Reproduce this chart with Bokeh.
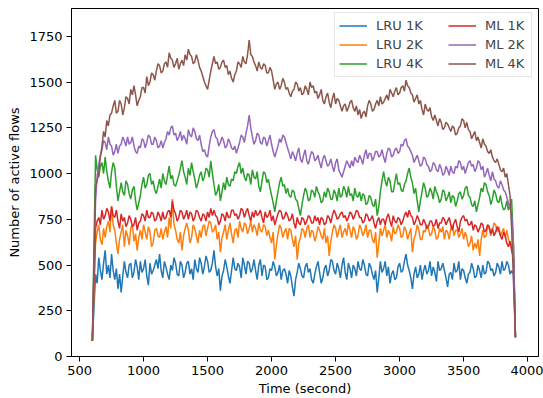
from bokeh.plotting import figure
from bokeh.models import Range1d, Legend, LegendItem, FixedTicker
from bokeh.embed import file_html
from bokeh.resources import INLINE

# sampling times (seconds)
time_s = [600] + [625 + 12.5 * k for k in range(261)] + [3890, 3905]

lru_1k = [85,
    450, 400, 540, 470, 420, 510, 580, 450, 500, 430, 560, 470, 420, 480, 370, 450, 350, 440, 520, 460,
    430, 500, 510, 430, 460, 530, 490, 420, 520, 460, 480, 530, 440, 390, 510, 450, 470, 500, 530, 480,
    560, 470, 430, 520, 490, 450, 420, 500, 470, 540, 510, 450, 440, 520, 500, 430, 460, 510, 520, 450,
    480, 420, 530, 480, 460, 540, 510, 450, 490, 550, 520, 460, 470, 510, 580, 490, 440, 480, 360, 440,
    470, 530, 490, 440, 400, 470, 540, 480, 470, 510, 490, 430, 540, 500, 450, 520, 510, 460, 480, 530,
    470, 420, 500, 530, 440, 500, 490, 420, 430, 480, 470, 520, 490, 440, 460, 500, 420, 470, 480, 450,
    400, 470, 440, 380, 330, 420, 460, 510, 480, 440, 430, 490, 510, 460, 480, 420, 400, 450, 490, 520,
    460, 400, 430, 480, 500, 440, 470, 530, 520, 470, 450, 510, 480, 430, 500, 540, 460, 420, 510, 480,
    430, 500, 480, 440, 520, 480, 470, 530, 500, 450, 440, 510, 490, 450, 420, 470, 350, 430, 520, 460,
    480, 520, 440, 490, 400, 450, 470, 420, 430, 490, 510, 460, 470, 520, 560, 500, 470, 430, 370, 450,
    490, 430, 450, 500, 420, 470, 500, 450, 470, 520, 440, 490, 460, 410, 520, 470, 480, 510, 470, 430,
    380, 450, 460, 420, 510, 460, 470, 520, 420, 480, 470, 430, 400, 450, 460, 510, 480, 430, 440, 500,
    470, 430, 500, 450, 460, 520, 510, 470, 480, 440, 460, 510, 490, 450, 520, 470, 480, 520, 500, 450,
    470, 450, 105]

lru_2k = [85,
    620, 680, 720, 640, 610, 700, 650, 710, 740, 680, 820, 720, 690, 620, 560, 640, 680, 720, 600, 690,
    660, 610, 700, 720, 630, 670, 580, 650, 690, 640, 720, 680, 640, 710, 680, 600, 620, 690, 700, 660,
    650, 700, 640, 680, 710, 650, 760, 700, 860, 720, 690, 640, 620, 680, 580, 660, 700, 730, 690, 620,
    650, 720, 700, 660, 620, 690, 650, 710, 720, 660, 700, 740, 730, 680, 690, 720, 640, 680, 570, 650,
    680, 720, 640, 690, 730, 670, 620, 690, 700, 650, 740, 700, 680, 730, 720, 670, 700, 740, 680, 720,
    700, 660, 730, 690, 680, 720, 710, 660, 690, 650, 620, 680, 530, 610, 670, 720, 700, 650, 680, 700,
    640, 700, 690, 640, 600, 660, 530, 620, 650, 700, 690, 650, 700, 720, 650, 690, 680, 630, 660, 710,
    690, 660, 640, 700, 620, 660, 550, 630, 680, 720, 700, 650, 690, 720, 650, 680, 700, 660, 730, 690,
    650, 710, 690, 640, 660, 720, 700, 660, 680, 720, 650, 690, 690, 640, 620, 680, 540, 620, 700, 660,
    690, 720, 650, 690, 670, 630, 710, 670, 680, 720, 700, 650, 660, 710, 690, 640, 670, 700, 570, 640,
    670, 720, 690, 640, 640, 690, 680, 720, 700, 660, 670, 710, 690, 640, 650, 700, 680, 710, 640, 690,
    680, 640, 700, 720, 660, 690, 690, 650, 670, 700, 640, 680, 650, 600, 620, 660, 580, 620, 590, 640,
    550, 640, 690, 650, 660, 710, 700, 660, 690, 730, 720, 680, 710, 660, 680, 700, 650, 690, 640, 620,
    600, 520, 105]

lru_4k = [85,
    1100, 1020, 980, 1040, 1060, 1000, 1090, 1010, 960, 920, 1010, 1060, 1030, 930, 850, 900, 950, 900, 880, 960,
    940, 890, 860, 910, 930, 850, 800, 840, 880, 940, 980, 920, 940, 990, 1000, 940, 960, 910, 890, 930,
    970, 920, 1000, 960, 940, 990, 1040, 970, 990, 940, 930, 960, 990, 1030, 1070, 1010, 980, 940, 1030, 990,
    1060, 1010, 970, 920, 950, 990, 1010, 960, 980, 1030, 1020, 980, 1070, 1000, 940, 880, 900, 940, 850, 900,
    950, 910, 980, 940, 930, 970, 960, 1010, 1000, 1040, 1060, 1000, 1030, 980, 960, 1000, 990, 940, 1020, 980,
    970, 1010, 930, 900, 960, 1010, 1000, 950, 970, 920, 880, 840, 790, 850, 900, 950, 980, 930, 940, 890,
    920, 880, 870, 910, 900, 860, 850, 810, 770, 830, 880, 920, 900, 850, 860, 910, 900, 870, 930, 900,
    880, 840, 850, 900, 870, 920, 900, 860, 860, 910, 890, 850, 920, 870, 880, 930, 910, 870, 930, 880,
    890, 850, 920, 880, 870, 900, 850, 890, 880, 830, 840, 880, 870, 830, 820, 860, 770, 820, 900, 960,
    1010, 960, 930, 980, 960, 900, 900, 950, 1000, 940, 950, 910, 900, 940, 960, 1000, 1030, 980, 950, 890,
    920, 850, 790, 850, 900, 950, 920, 870, 880, 920, 900, 860, 930, 900, 880, 840, 860, 910, 900, 850,
    870, 900, 840, 880, 870, 820, 850, 890, 900, 860, 880, 920, 930, 880, 870, 830, 820, 850, 790, 830,
    870, 920, 900, 950, 940, 900, 880, 830, 860, 910, 890, 850, 840, 880, 830, 800, 810, 850, 800, 830,
    860, 600, 105]

ml_1k = [85,
    700, 740, 760, 720, 800, 750, 770, 810, 790, 740, 820, 770, 760, 800, 740, 700, 780, 740, 760, 710,
    730, 770, 750, 710, 720, 760, 690, 730, 740, 780, 770, 740, 800, 760, 760, 790, 780, 740, 750, 790,
    770, 740, 790, 750, 760, 790, 800, 760, 850, 800, 780, 740, 760, 800, 790, 750, 770, 800, 750, 790,
    780, 740, 760, 800, 790, 760, 740, 780, 770, 740, 790, 760, 810, 770, 800, 770, 760, 720, 740, 780,
    770, 740, 790, 760, 760, 800, 800, 770, 780, 750, 770, 810, 800, 760, 790, 810, 770, 740, 790, 760,
    800, 770, 780, 800, 760, 730, 790, 760, 770, 800, 740, 770, 720, 750, 780, 800, 790, 750, 760, 790,
    770, 740, 750, 780, 730, 700, 760, 730, 720, 760, 750, 720, 740, 770, 760, 730, 730, 770, 740, 760,
    720, 760, 750, 720, 730, 770, 760, 730, 770, 800, 780, 750, 760, 780, 790, 760, 770, 740, 760, 790,
    780, 750, 770, 800, 790, 760, 760, 730, 740, 780, 770, 740, 750, 770, 730, 700, 740, 760, 720, 750,
    750, 720, 760, 780, 740, 710, 770, 740, 730, 760, 750, 720, 740, 770, 790, 760, 800, 770, 760, 720,
    740, 770, 750, 720, 720, 750, 730, 700, 710, 740, 740, 710, 720, 750, 700, 730, 730, 760, 750, 720,
    740, 760, 720, 690, 730, 750, 710, 680, 740, 760, 770, 740, 750, 720, 720, 740, 690, 720, 710, 680,
    700, 730, 720, 680, 690, 720, 710, 670, 700, 660, 680, 710, 690, 660, 640, 680, 660, 620, 600, 630,
    580, 540, 105]

ml_2k = [85,
    850, 990, 1050, 1100, 1130, 1180, 1170, 1130, 1200, 1160, 1150, 1100, 1120, 1160, 1110, 1150, 1160, 1200, 1180, 1150,
    1200, 1160, 1170, 1200, 1150, 1120, 1110, 1150, 1140, 1190, 1180, 1140, 1170, 1210, 1200, 1160, 1160, 1200, 1180, 1140,
    1150, 1180, 1140, 1170, 1190, 1230, 1210, 1250, 1260, 1210, 1220, 1180, 1200, 1230, 1180, 1210, 1190, 1160, 1240, 1210,
    1200, 1250, 1230, 1190, 1180, 1210, 1160, 1120, 1130, 1100, 1090, 1150, 1200, 1230, 1240, 1200, 1190, 1150, 1170, 1200,
    1180, 1140, 1150, 1190, 1170, 1140, 1130, 1150, 1110, 1140, 1170, 1210, 1200, 1170, 1220, 1260, 1320, 1250, 1200, 1160,
    1180, 1220, 1210, 1170, 1160, 1200, 1190, 1150, 1180, 1210, 1160, 1120, 1090, 1120, 1150, 1190, 1170, 1210, 1200, 1170,
    1140, 1110, 1080, 1120, 1100, 1070, 1110, 1140, 1080, 1060, 1100, 1130, 1070, 1050, 1090, 1120, 1110, 1070, 1080, 1100,
    1060, 1030, 1080, 1100, 1070, 1040, 1050, 1080, 1040, 1010, 1060, 1080, 1020, 1000, 980, 1010, 1040, 1070, 1050, 1030,
    1070, 1040, 1090, 1070, 1060, 1100, 1080, 1050, 1100, 1130, 1080, 1110, 1110, 1070, 1090, 1120, 1120, 1090, 1100, 1130,
    1090, 1060, 1110, 1140, 1130, 1090, 1100, 1130, 1140, 1110, 1120, 1160, 1150, 1180, 1190, 1150, 1140, 1120, 1100, 1060,
    1080, 1100, 1070, 1040, 1050, 1090, 1080, 1050, 1040, 1010, 1020, 1060, 1050, 1020, 1010, 1050, 1030, 990, 1000, 1040,
    1020, 990, 1040, 1010, 1000, 1040, 1030, 1070, 1060, 1020, 1040, 1000, 1030, 1060, 1070, 1040, 1050, 1010, 1030, 1070,
    1060, 1020, 1040, 980, 1000, 1030, 990, 960, 1010, 970, 960, 930, 920, 960, 940, 910, 900, 870, 840, 810,
    780, 600, 105]

ml_4k = [85,
    930, 960, 1000, 1090, 1150, 1230, 1200, 1290, 1260, 1320, 1330, 1370, 1400, 1330, 1340, 1400, 1380, 1320, 1360, 1420,
    1410, 1380, 1460, 1430, 1480, 1430, 1370, 1400, 1420, 1470, 1470, 1440, 1530, 1480, 1500, 1550, 1540, 1510, 1560, 1600,
    1590, 1550, 1560, 1600, 1610, 1580, 1660, 1630, 1620, 1580, 1600, 1630, 1570, 1600, 1620, 1590, 1650, 1620, 1680, 1650,
    1640, 1600, 1610, 1650, 1620, 1580, 1560, 1530, 1500, 1480, 1460, 1510, 1560, 1600, 1640, 1600, 1610, 1570, 1580, 1610,
    1620, 1580, 1590, 1540, 1560, 1520, 1500, 1540, 1560, 1610, 1600, 1580, 1640, 1610, 1600, 1650, 1730, 1650, 1640, 1610,
    1590, 1560, 1610, 1580, 1570, 1600, 1590, 1550, 1550, 1580, 1560, 1510, 1460, 1490, 1500, 1460, 1480, 1520, 1500, 1460,
    1470, 1440, 1420, 1450, 1460, 1500, 1490, 1450, 1470, 1430, 1440, 1480, 1460, 1430, 1500, 1470, 1480, 1440, 1450, 1410,
    1430, 1460, 1400, 1380, 1420, 1440, 1390, 1360, 1410, 1440, 1380, 1410, 1400, 1370, 1340, 1370, 1380, 1340, 1360, 1390,
    1400, 1360, 1340, 1370, 1320, 1350, 1300, 1330, 1340, 1310, 1370, 1400, 1380, 1340, 1350, 1380, 1400, 1370, 1420, 1380,
    1390, 1410, 1430, 1400, 1460, 1440, 1420, 1450, 1470, 1430, 1440, 1470, 1480, 1450, 1510, 1480, 1470, 1440, 1430, 1390,
    1410, 1430, 1380, 1400, 1350, 1320, 1380, 1350, 1340, 1360, 1310, 1290, 1320, 1290, 1260, 1300, 1280, 1240, 1250, 1280,
    1270, 1250, 1230, 1260, 1250, 1210, 1220, 1250, 1260, 1300, 1290, 1250, 1280, 1240, 1230, 1190, 1210, 1230, 1180, 1200,
    1170, 1140, 1190, 1160, 1150, 1120, 1110, 1130, 1090, 1070, 1060, 1080, 1050, 1020, 1010, 1030, 980, 1000, 940, 880,
    700, 400, 105]

series_labels = ["LRU 1K", "LRU 2K", "LRU 4K", "ML 1K", "ML 2K", "ML 4K"]
series_values = [lru_1k, lru_2k, lru_4k, ml_1k, ml_2k, ml_4k]
series_colors = ["#1f77b4", "#ff7f0e", "#2ca02c", "#d62728", "#9467bd", "#8c564b"]

x_ticks = [500, 1000, 1500, 2000, 2500, 3000, 3500, 4000]
y_ticks = [0, 250, 500, 750, 1000, 1250, 1500, 1750]

for v in series_values:
    assert len(v) == len(time_s), (len(v), len(time_s))

FONT = "DejaVu Sans"

p = figure(width=543, height=398, output_backend="svg", toolbar_location=None,
           x_range=Range1d(437, 4085), y_range=Range1d(0, 1902),
           min_border_left=71, min_border_right=5, min_border_top=8, min_border_bottom=42)
p.grid.visible = False
p.outline_line_color = "black"
p.outline_line_width = 1
p.background_fill_color = "white"
p.border_fill_color = "white"

renderers = []
for lab, vals, col in zip(series_labels, series_values, series_colors):
    r = p.line(time_s, vals, line_color=col, line_width=1.5)
    renderers.append(r)

for ax, ticks in ((p.xaxis[0], x_ticks), (p.yaxis[0], y_ticks)):
    ax.ticker = FixedTicker(ticks=ticks)
    ax.minor_tick_line_color = None
    ax.major_tick_out = 5
    ax.major_tick_in = 0
    ax.major_tick_line_color = "black"
    ax.axis_line_color = "black"
    ax.major_label_text_font = FONT
    ax.major_label_text_font_size = "13px"
    ax.major_label_text_color = "black"
    ax.axis_label_text_font = FONT
    ax.axis_label_text_font_size = "13px"
    ax.axis_label_text_font_style = "normal"
    ax.axis_label_text_color = "black"
    ax.major_label_standoff = 4

p.xaxis.axis_label = "Time (second)"
p.yaxis.axis_label = "Number of active flows"
p.xaxis.axis_label_standoff = 3
p.yaxis.axis_label_standoff = 4

common = dict(label_text_font=FONT, label_text_font_size="13px",
              glyph_width=28, glyph_height=17, label_height=17,
              label_standoff=9, spacing=2, padding=4, margin=0)

items_lru = [LegendItem(label=l, renderers=[r]) for l, r in zip(series_labels[:3], renderers[:3])]
items_ml = [LegendItem(label=l, renderers=[r]) for l, r in zip(series_labels[3:], renderers[3:])]

legend_lru = Legend(items=items_lru, location=(263, 279), label_width=151,
                    border_line_color="#cccccc", border_line_width=1,
                    background_fill_color="white", background_fill_alpha=0.8, **common)
legend_ml = Legend(items=items_ml, location=(377, 284), label_width=20,
                   border_line_color=None, background_fill_alpha=0.0, **common)
p.add_layout(legend_lru, "center")
p.add_layout(legend_ml, "center")

open("out.html", "w").write(file_html(p, INLINE))
